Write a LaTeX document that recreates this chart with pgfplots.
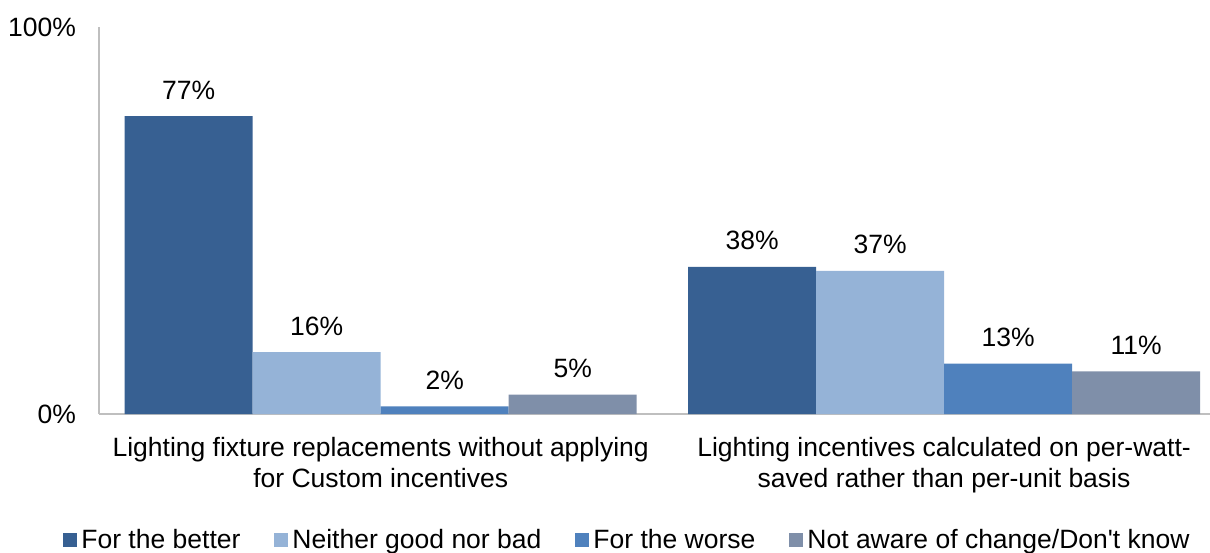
\documentclass[border=0pt]{standalone}
\usepackage{pgfplots}
\pgfplotsset{compat=1.18}
\usepackage{fontspec}
\setmainfont{Liberation Sans}
\definecolor{cBetter}{HTML}{376092}
\definecolor{cNeither}{HTML}{95B3D7}
\definecolor{cWorse}{HTML}{4F81BD}
\definecolor{cNot}{HTML}{7F8FA9}
\definecolor{axgray}{HTML}{BFBFBF}
\begin{document}
\begin{tikzpicture}
\useasboundingbox (-49.5pt,-69pt) rectangle (555.5pt,207pt);
\begin{axis}[
  at={(0pt,0pt)}, anchor=south west,
  scale only axis,
  width=555.5pt, height=193.5pt,
  font=\fontsize{13.25}{15.5}\selectfont,
  /pgf/number format/assume math mode=true,
  ybar=0pt, bar width=0.2272,
  xmin=-0.5, xmax=1.472, ymin=0, ymax=100,
  enlargelimits=false,
  axis x line=bottom, axis y line=left,
  axis line style={draw=axgray, line width=1pt, -},
  major tick length=0pt,
  xtick={0,1},
  xticklabels={{Lighting fixture replacements without applying\\for Custom incentives},
               {Lighting incentives calculated on per-watt-\\saved rather than per-unit basis}},
  xticklabel style={align=center, yshift=-8pt},
  ytick={0,100},
  yticklabels={0\%,100\%},
  yticklabel style={xshift=-8pt},
  point meta=y,
  nodes near coords={\pgfmathprintnumber{\pgfplotspointmeta}\%},
  every node near coord/.append style={anchor=base, yshift=8.5pt, inner sep=0pt, font=\fontsize{13.25}{15.5}\selectfont},
  legend columns=4,
  legend style={draw=none, at={(0.4766,-0.3256)}, anchor=center, font=\fontsize{13.25}{15.5}\selectfont,
    /tikz/every even column/.append style={column sep=15pt}},
  legend image code/.code={\fill[#1] (0pt,-3.5pt) rectangle (7pt,3.5pt);},
]
\addplot[fill=cBetter, draw=none] coordinates {(0,77) (1,38)};
\addplot[fill=cNeither, draw=none] coordinates {(0,16) (1,37)};
\addplot[fill=cWorse, draw=none] coordinates {(0,2) (1,13)};
\addplot[fill=cNot, draw=none] coordinates {(0,5) (1,11)};
\legend{For the better, Neither good nor bad, For the worse, Not aware of change/Don\textquotesingle t know}
\end{axis}
\end{tikzpicture}
\end{document}
